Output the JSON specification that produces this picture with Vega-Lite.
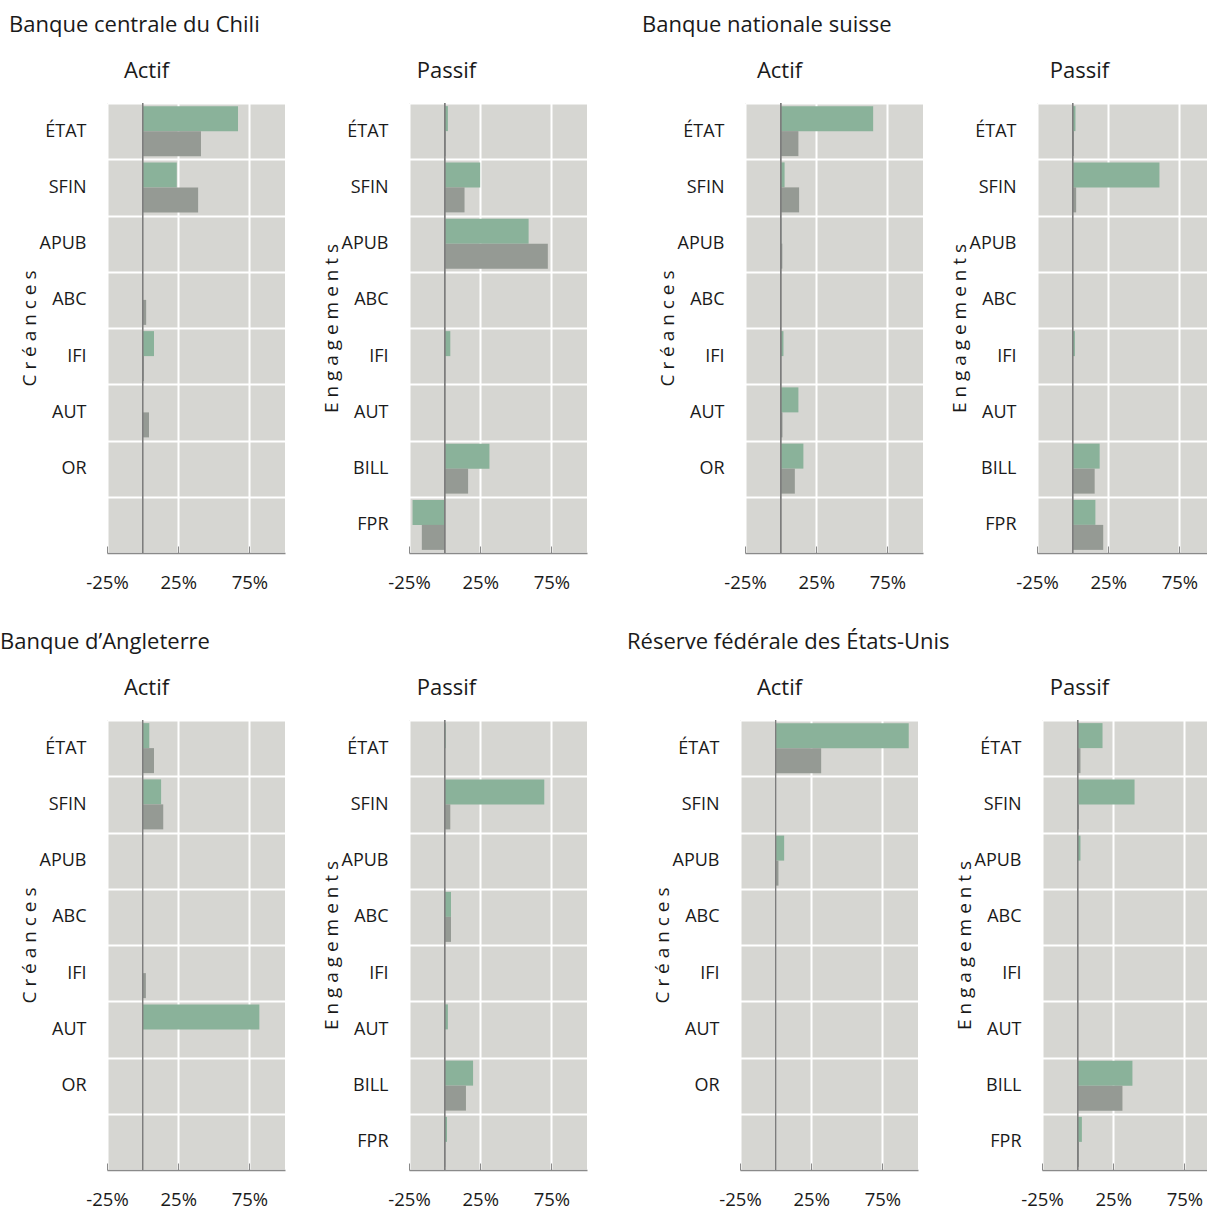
{
  "$schema": "https://vega.github.io/schema/vega-lite/v6.json",
  "background": "white",
  "padding": {"left": 0, "top": 14, "right": -13, "bottom": 0},
  "datasets": {
    "rows": [
      {"bank": "Chili", "side": "Actif", "cat": "ÉTAT", "serie": "A", "value": 67},
      {"bank": "Chili", "side": "Actif", "cat": "ÉTAT", "serie": "B", "value": 41},
      {"bank": "Chili", "side": "Actif", "cat": "SFIN", "serie": "A", "value": 24},
      {"bank": "Chili", "side": "Actif", "cat": "SFIN", "serie": "B", "value": 39},
      {"bank": "Chili", "side": "Actif", "cat": "ABC", "serie": "B", "value": 2.5},
      {"bank": "Chili", "side": "Actif", "cat": "IFI", "serie": "A", "value": 8},
      {"bank": "Chili", "side": "Actif", "cat": "IFI", "serie": "B", "value": 1},
      {"bank": "Chili", "side": "Actif", "cat": "AUT", "serie": "B", "value": 4.5},
      {"bank": "Chili", "side": "Passif", "cat": "ÉTAT", "serie": "A", "value": 2.3},
      {"bank": "Chili", "side": "Passif", "cat": "ÉTAT", "serie": "B", "value": 0.8},
      {"bank": "Chili", "side": "Passif", "cat": "SFIN", "serie": "A", "value": 25},
      {"bank": "Chili", "side": "Passif", "cat": "SFIN", "serie": "B", "value": 14},
      {"bank": "Chili", "side": "Passif", "cat": "APUB", "serie": "A", "value": 59},
      {"bank": "Chili", "side": "Passif", "cat": "APUB", "serie": "B", "value": 72.5},
      {"bank": "Chili", "side": "Passif", "cat": "IFI", "serie": "A", "value": 4},
      {"bank": "Chili", "side": "Passif", "cat": "IFI", "serie": "B", "value": 0.5},
      {"bank": "Chili", "side": "Passif", "cat": "BILL", "serie": "A", "value": 31.5},
      {"bank": "Chili", "side": "Passif", "cat": "BILL", "serie": "B", "value": 16.5},
      {"bank": "Chili", "side": "Passif", "cat": "FPR", "serie": "A", "value": -22.5},
      {"bank": "Chili", "side": "Passif", "cat": "FPR", "serie": "B", "value": -16},
      {"bank": "Suisse", "side": "Actif", "cat": "ÉTAT", "serie": "A", "value": 65},
      {"bank": "Suisse", "side": "Actif", "cat": "ÉTAT", "serie": "B", "value": 12.5},
      {"bank": "Suisse", "side": "Actif", "cat": "SFIN", "serie": "A", "value": 2.8},
      {"bank": "Suisse", "side": "Actif", "cat": "SFIN", "serie": "B", "value": 13},
      {"bank": "Suisse", "side": "Actif", "cat": "APUB", "serie": "A", "value": 0.5},
      {"bank": "Suisse", "side": "Actif", "cat": "APUB", "serie": "B", "value": 1.2},
      {"bank": "Suisse", "side": "Actif", "cat": "IFI", "serie": "A", "value": 2},
      {"bank": "Suisse", "side": "Actif", "cat": "IFI", "serie": "B", "value": 0.3},
      {"bank": "Suisse", "side": "Actif", "cat": "AUT", "serie": "A", "value": 12.5},
      {"bank": "Suisse", "side": "Actif", "cat": "AUT", "serie": "B", "value": 1.3},
      {"bank": "Suisse", "side": "Actif", "cat": "OR", "serie": "A", "value": 16},
      {"bank": "Suisse", "side": "Actif", "cat": "OR", "serie": "B", "value": 10},
      {"bank": "Suisse", "side": "Passif", "cat": "ÉTAT", "serie": "A", "value": 2},
      {"bank": "Suisse", "side": "Passif", "cat": "ÉTAT", "serie": "B", "value": 1},
      {"bank": "Suisse", "side": "Passif", "cat": "SFIN", "serie": "A", "value": 61},
      {"bank": "Suisse", "side": "Passif", "cat": "SFIN", "serie": "B", "value": 2.5},
      {"bank": "Suisse", "side": "Passif", "cat": "IFI", "serie": "A", "value": 1.6},
      {"bank": "Suisse", "side": "Passif", "cat": "BILL", "serie": "A", "value": 19},
      {"bank": "Suisse", "side": "Passif", "cat": "BILL", "serie": "B", "value": 15.5},
      {"bank": "Suisse", "side": "Passif", "cat": "FPR", "serie": "A", "value": 16},
      {"bank": "Suisse", "side": "Passif", "cat": "FPR", "serie": "B", "value": 21.5},
      {"bank": "Angleterre", "side": "Actif", "cat": "ÉTAT", "serie": "A", "value": 4.7},
      {"bank": "Angleterre", "side": "Actif", "cat": "ÉTAT", "serie": "B", "value": 8},
      {"bank": "Angleterre", "side": "Actif", "cat": "SFIN", "serie": "A", "value": 13},
      {"bank": "Angleterre", "side": "Actif", "cat": "SFIN", "serie": "B", "value": 14.5},
      {"bank": "Angleterre", "side": "Actif", "cat": "IFI", "serie": "B", "value": 2.3},
      {"bank": "Angleterre", "side": "Actif", "cat": "AUT", "serie": "A", "value": 82},
      {"bank": "Angleterre", "side": "Passif", "cat": "ÉTAT", "serie": "A", "value": 0.8},
      {"bank": "Angleterre", "side": "Passif", "cat": "SFIN", "serie": "A", "value": 70},
      {"bank": "Angleterre", "side": "Passif", "cat": "SFIN", "serie": "B", "value": 4},
      {"bank": "Angleterre", "side": "Passif", "cat": "ABC", "serie": "A", "value": 4.5},
      {"bank": "Angleterre", "side": "Passif", "cat": "ABC", "serie": "B", "value": 4.5},
      {"bank": "Angleterre", "side": "Passif", "cat": "AUT", "serie": "A", "value": 2.3},
      {"bank": "Angleterre", "side": "Passif", "cat": "BILL", "serie": "A", "value": 20},
      {"bank": "Angleterre", "side": "Passif", "cat": "BILL", "serie": "B", "value": 15},
      {"bank": "Angleterre", "side": "Passif", "cat": "FPR", "serie": "A", "value": 1.7},
      {"bank": "Angleterre", "side": "Passif", "cat": "FPR", "serie": "B", "value": 0.5},
      {"bank": "Fed", "side": "Actif", "cat": "ÉTAT", "serie": "A", "value": 93.5},
      {"bank": "Fed", "side": "Actif", "cat": "ÉTAT", "serie": "B", "value": 32},
      {"bank": "Fed", "side": "Actif", "cat": "APUB", "serie": "A", "value": 6},
      {"bank": "Fed", "side": "Actif", "cat": "APUB", "serie": "B", "value": 2},
      {"bank": "Fed", "side": "Passif", "cat": "ÉTAT", "serie": "A", "value": 17.5},
      {"bank": "Fed", "side": "Passif", "cat": "ÉTAT", "serie": "B", "value": 2},
      {"bank": "Fed", "side": "Passif", "cat": "SFIN", "serie": "A", "value": 40},
      {"bank": "Fed", "side": "Passif", "cat": "SFIN", "serie": "B", "value": 1},
      {"bank": "Fed", "side": "Passif", "cat": "APUB", "serie": "A", "value": 2},
      {"bank": "Fed", "side": "Passif", "cat": "BILL", "serie": "A", "value": 38.5},
      {"bank": "Fed", "side": "Passif", "cat": "BILL", "serie": "B", "value": 31.5},
      {"bank": "Fed", "side": "Passif", "cat": "FPR", "serie": "A", "value": 3},
      {"bank": "Fed", "side": "Passif", "cat": "FPR", "serie": "B", "value": 1}
    ]
  },
  "spacing": 39,
  "vconcat": [
    {
      "spacing": 55,
      "hconcat": [
        {
          "title": {"text": "Banque centrale du Chili", "anchor": "start", "fontSize": 22, "offset": 23, "dx": -11},
          "spacing": 37,
          "hconcat": [
            {
              "title": {"text": "Actif", "anchor": "middle", "frame": "bounds", "fontSize": 22, "offset": 11, "dx": -6},
              "width": 178, "height": 450,
              "data": {"name": "rows"},
              "transform": [{"filter": "datum.bank === 'Chili' && datum.side === 'Actif'"}],
              "layer": [
                {"mark": {"type": "bar"},
                 "encoding": {
                   "x": {"field": "value", "type": "quantitative", "scale": {"domain": [-25, 100], "nice": false, "zero": false}, "axis": {"values": [-25, 25, 75], "labelExpr": "datum.value + '%'", "title": null}},
                   "y": {"field": "cat", "type": "nominal", "sort": null, "scale": {"domain": ["ÉTAT", "SFIN", "APUB", "ABC", "IFI", "AUT", "OR", ""], "paddingInner": 0, "paddingOuter": 0}, "axis": {"title": "C r é a n c e s", "grid": true}},
                   "yOffset": {"field": "serie", "scale": {"domain": ["A", "B"], "paddingInner": 0, "paddingOuter": 0.125}},
                   "color": {"field": "serie", "type": "nominal", "scale": {"domain": ["A", "B"], "range": ["#8ab29a", "#959a94"]}, "legend": null}
                 }},
                {"mark": {"type": "rule", "color": "#7d7d7d", "strokeWidth": 1}, "encoding": {"x": {"datum": 0, "type": "quantitative"}}}
              ]
            },
            {
              "title": {"text": "Passif", "anchor": "middle", "frame": "bounds", "fontSize": 22, "offset": 11, "dx": -8},
              "width": 178, "height": 450,
              "data": {"name": "rows"},
              "transform": [{"filter": "datum.bank === 'Chili' && datum.side === 'Passif'"}],
              "layer": [
                {"mark": {"type": "bar"},
                 "encoding": {
                   "x": {"field": "value", "type": "quantitative", "scale": {"domain": [-25, 100], "nice": false, "zero": false}, "axis": {"values": [-25, 25, 75], "labelExpr": "datum.value + '%'", "title": null}},
                   "y": {"field": "cat", "type": "nominal", "sort": null, "scale": {"domain": ["ÉTAT", "SFIN", "APUB", "ABC", "IFI", "AUT", "BILL", "FPR"], "paddingInner": 0, "paddingOuter": 0}, "axis": {"title": "E n g a g e m e n t s", "grid": true}},
                   "yOffset": {"field": "serie", "scale": {"domain": ["A", "B"], "paddingInner": 0, "paddingOuter": 0.125}},
                   "color": {"field": "serie", "type": "nominal", "scale": {"domain": ["A", "B"], "range": ["#8ab29a", "#959a94"]}, "legend": null}
                 }},
                {"mark": {"type": "rule", "color": "#7d7d7d", "strokeWidth": 1}, "encoding": {"x": {"datum": 0, "type": "quantitative"}}}
              ]
            }
          ]
        },
        {
          "title": {"text": "Banque nationale suisse", "anchor": "start", "fontSize": 22, "offset": 23, "dx": -16},
          "spacing": 27,
          "hconcat": [
            {
              "title": {"text": "Actif", "anchor": "middle", "frame": "bounds", "fontSize": 22, "offset": 11, "dx": -11},
              "width": 178, "height": 450,
              "data": {"name": "rows"},
              "transform": [{"filter": "datum.bank === 'Suisse' && datum.side === 'Actif'"}],
              "layer": [
                {"mark": {"type": "bar"},
                 "encoding": {
                   "x": {"field": "value", "type": "quantitative", "scale": {"domain": [-25, 100], "nice": false, "zero": false}, "axis": {"values": [-25, 25, 75], "labelExpr": "datum.value + '%'", "title": null}},
                   "y": {"field": "cat", "type": "nominal", "sort": null, "scale": {"domain": ["ÉTAT", "SFIN", "APUB", "ABC", "IFI", "AUT", "OR", ""], "paddingInner": 0, "paddingOuter": 0}, "axis": {"title": "C r é a n c e s", "grid": true}},
                   "yOffset": {"field": "serie", "scale": {"domain": ["A", "B"], "paddingInner": 0, "paddingOuter": 0.125}},
                   "color": {"field": "serie", "type": "nominal", "scale": {"domain": ["A", "B"], "range": ["#8ab29a", "#959a94"]}, "legend": null}
                 }},
                {"mark": {"type": "rule", "color": "#7d7d7d", "strokeWidth": 1}, "encoding": {"x": {"datum": 0, "type": "quantitative"}}}
              ]
            },
            {
              "title": {"text": "Passif", "anchor": "middle", "frame": "bounds", "fontSize": 22, "offset": 11, "dx": -3},
              "width": 178, "height": 450,
              "data": {"name": "rows"},
              "transform": [{"filter": "datum.bank === 'Suisse' && datum.side === 'Passif'"}],
              "layer": [
                {"mark": {"type": "bar"},
                 "encoding": {
                   "x": {"field": "value", "type": "quantitative", "scale": {"domain": [-25, 100], "nice": false, "zero": false}, "axis": {"values": [-25, 25, 75], "labelExpr": "datum.value + '%'", "title": null}},
                   "y": {"field": "cat", "type": "nominal", "sort": null, "scale": {"domain": ["ÉTAT", "SFIN", "APUB", "ABC", "IFI", "AUT", "BILL", "FPR"], "paddingInner": 0, "paddingOuter": 0}, "axis": {"title": "E n g a g e m e n t s", "grid": true}},
                   "yOffset": {"field": "serie", "scale": {"domain": ["A", "B"], "paddingInner": 0, "paddingOuter": 0.125}},
                   "color": {"field": "serie", "type": "nominal", "scale": {"domain": ["A", "B"], "range": ["#8ab29a", "#959a94"]}, "legend": null}
                 }},
                {"mark": {"type": "rule", "color": "#7d7d7d", "strokeWidth": 1}, "encoding": {"x": {"datum": 0, "type": "quantitative"}}}
              ]
            }
          ]
        }
      ]
    },
    {
      "spacing": 40,
      "hconcat": [
        {
          "title": {"text": "Banque d’Angleterre", "anchor": "start", "fontSize": 22, "offset": 23, "dx": -20},
          "spacing": 37,
          "hconcat": [
            {
              "title": {"text": "Actif", "anchor": "middle", "frame": "bounds", "fontSize": 22, "offset": 11, "dx": -6},
              "width": 178, "height": 450,
              "data": {"name": "rows"},
              "transform": [{"filter": "datum.bank === 'Angleterre' && datum.side === 'Actif'"}],
              "layer": [
                {"mark": {"type": "bar"},
                 "encoding": {
                   "x": {"field": "value", "type": "quantitative", "scale": {"domain": [-25, 100], "nice": false, "zero": false}, "axis": {"values": [-25, 25, 75], "labelExpr": "datum.value + '%'", "title": null}},
                   "y": {"field": "cat", "type": "nominal", "sort": null, "scale": {"domain": ["ÉTAT", "SFIN", "APUB", "ABC", "IFI", "AUT", "OR", ""], "paddingInner": 0, "paddingOuter": 0}, "axis": {"title": "C r é a n c e s", "grid": true}},
                   "yOffset": {"field": "serie", "scale": {"domain": ["A", "B"], "paddingInner": 0, "paddingOuter": 0.125}},
                   "color": {"field": "serie", "type": "nominal", "scale": {"domain": ["A", "B"], "range": ["#8ab29a", "#959a94"]}, "legend": null}
                 }},
                {"mark": {"type": "rule", "color": "#7d7d7d", "strokeWidth": 1}, "encoding": {"x": {"datum": 0, "type": "quantitative"}}}
              ]
            },
            {
              "title": {"text": "Passif", "anchor": "middle", "frame": "bounds", "fontSize": 22, "offset": 11, "dx": -8},
              "width": 178, "height": 450,
              "data": {"name": "rows"},
              "transform": [{"filter": "datum.bank === 'Angleterre' && datum.side === 'Passif'"}],
              "layer": [
                {"mark": {"type": "bar"},
                 "encoding": {
                   "x": {"field": "value", "type": "quantitative", "scale": {"domain": [-25, 100], "nice": false, "zero": false}, "axis": {"values": [-25, 25, 75], "labelExpr": "datum.value + '%'", "title": null}},
                   "y": {"field": "cat", "type": "nominal", "sort": null, "scale": {"domain": ["ÉTAT", "SFIN", "APUB", "ABC", "IFI", "AUT", "BILL", "FPR"], "paddingInner": 0, "paddingOuter": 0}, "axis": {"title": "E n g a g e m e n t s", "grid": true}},
                   "yOffset": {"field": "serie", "scale": {"domain": ["A", "B"], "paddingInner": 0, "paddingOuter": 0.125}},
                   "color": {"field": "serie", "type": "nominal", "scale": {"domain": ["A", "B"], "range": ["#8ab29a", "#959a94"]}, "legend": null}
                 }},
                {"mark": {"type": "rule", "color": "#7d7d7d", "strokeWidth": 1}, "encoding": {"x": {"datum": 0, "type": "quantitative"}}}
              ]
            }
          ]
        },
        {
          "title": {"text": "Réserve fédérale des États-Unis", "anchor": "start", "fontSize": 22, "offset": 23, "dx": -26},
          "spacing": 37,
          "hconcat": [
            {
              "title": {"text": "Actif", "anchor": "middle", "frame": "bounds", "fontSize": 22, "offset": 11, "dx": -6},
              "width": 178, "height": 450,
              "data": {"name": "rows"},
              "transform": [{"filter": "datum.bank === 'Fed' && datum.side === 'Actif'"}],
              "layer": [
                {"mark": {"type": "bar"},
                 "encoding": {
                   "x": {"field": "value", "type": "quantitative", "scale": {"domain": [-25, 100], "nice": false, "zero": false}, "axis": {"values": [-25, 25, 75], "labelExpr": "datum.value + '%'", "title": null}},
                   "y": {"field": "cat", "type": "nominal", "sort": null, "scale": {"domain": ["ÉTAT", "SFIN", "APUB", "ABC", "IFI", "AUT", "OR", ""], "paddingInner": 0, "paddingOuter": 0}, "axis": {"title": "C r é a n c e s", "grid": true}},
                   "yOffset": {"field": "serie", "scale": {"domain": ["A", "B"], "paddingInner": 0, "paddingOuter": 0.125}},
                   "color": {"field": "serie", "type": "nominal", "scale": {"domain": ["A", "B"], "range": ["#8ab29a", "#959a94"]}, "legend": null}
                 }},
                {"mark": {"type": "rule", "color": "#7d7d7d", "strokeWidth": 1}, "encoding": {"x": {"datum": 0, "type": "quantitative"}}}
              ]
            },
            {
              "title": {"text": "Passif", "anchor": "middle", "frame": "bounds", "fontSize": 22, "offset": 11, "dx": -8},
              "width": 178, "height": 450,
              "data": {"name": "rows"},
              "transform": [{"filter": "datum.bank === 'Fed' && datum.side === 'Passif'"}],
              "layer": [
                {"mark": {"type": "bar"},
                 "encoding": {
                   "x": {"field": "value", "type": "quantitative", "scale": {"domain": [-25, 100], "nice": false, "zero": false}, "axis": {"values": [-25, 25, 75], "labelExpr": "datum.value + '%'", "title": null}},
                   "y": {"field": "cat", "type": "nominal", "sort": null, "scale": {"domain": ["ÉTAT", "SFIN", "APUB", "ABC", "IFI", "AUT", "BILL", "FPR"], "paddingInner": 0, "paddingOuter": 0}, "axis": {"title": "E n g a g e m e n t s", "grid": true}},
                   "yOffset": {"field": "serie", "scale": {"domain": ["A", "B"], "paddingInner": 0, "paddingOuter": 0.125}},
                   "color": {"field": "serie", "type": "nominal", "scale": {"domain": ["A", "B"], "range": ["#8ab29a", "#959a94"]}, "legend": null}
                 }},
                {"mark": {"type": "rule", "color": "#7d7d7d", "strokeWidth": 1}, "encoding": {"x": {"datum": 0, "type": "quantitative"}}}
              ]
            }
          ]
        }
      ]
    }
  ],
  "config": {
    "font": "Open Sans",
    "view": {"fill": "#d6d6d2", "stroke": null},
    "axis": {"labelFont": "Open Sans", "labelFontSize": 18, "labelColor": "#1a1a1a", "titleFont": "Open Sans", "titleFontSize": 19, "titleFontWeight": "normal", "titleColor": "#1a1a1a"},
    "axisY": {"domain": false, "ticks": false, "grid": true, "gridColor": "#ffffff", "gridWidth": 2, "gridOpacity": 1, "tickBand": "extent", "labelPadding": 21, "titlePadding": 0},
    "axisX": {"grid": true, "gridColor": "#ffffff", "gridWidth": 2, "gridOpacity": 1, "domainColor": "#8a8a8a", "domainWidth": 1.5, "tickColor": "#8a8a8a", "tickSize": -7, "labelPadding": 27, "labelFlush": false, "labelFontSize": 18.5},
    "title": {"font": "Open Sans", "fontWeight": "normal", "color": "#1a1a1a"}
  }
}
